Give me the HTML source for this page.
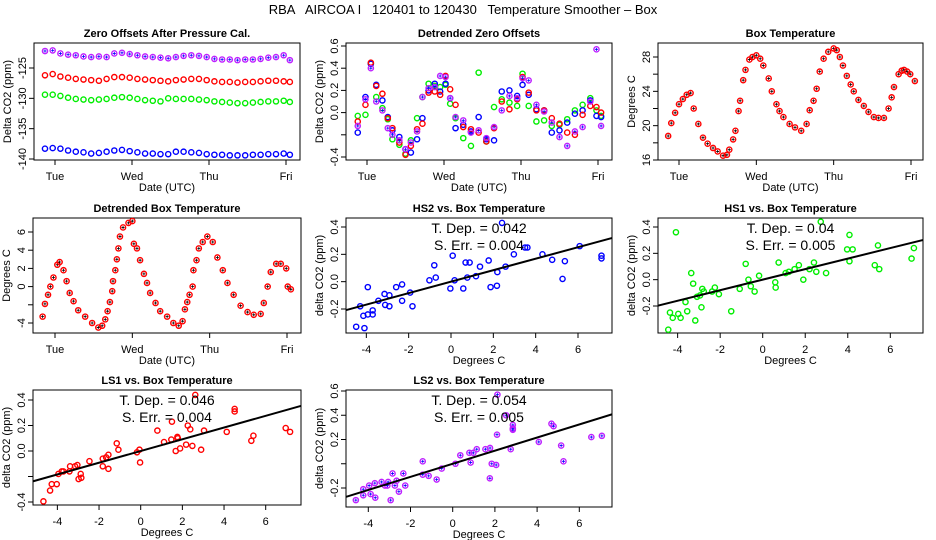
<!DOCTYPE html>
<html><head><meta charset="utf-8">
<style>
html,body{margin:0;padding:0;background:#fff;}
svg{display:block;font-family:"Liberation Sans",sans-serif;}
text{fill:#000;}
</style></head>
<body>
<svg id="chart" width="936" height="540" viewBox="0 0 936 540" xmlns="http://www.w3.org/2000/svg">
<rect x="0" y="0" width="936" height="540" fill="#fff"/>
<text x="463" y="14" font-size="13" text-anchor="middle" xml:space="preserve">RBA   AIRCOA I   120401 to 120430   Temperature Smoother – Box</text>
</svg>
<script>
// ---------- data ----------
const dayLabels = ["Tue","Wed","Thu","Fri"];
const dayTicks = [0,1,2,3];

const zeroTimes = [-0.13,-0.03,0.07,0.17,0.27,0.37,0.47,0.57,0.67,0.77,0.87,0.97,1.07,1.17,1.27,1.37,1.47,1.57,1.67,1.77,1.87,1.97,2.07,2.17,2.27,2.37,2.47,2.57,2.67,2.77,2.87,2.97,3.05];
const zeroLS2 = [-122.2,-122.1,-122.6,-122.8,-122.9,-123.1,-123.2,-123.1,-123.2,-122.6,-122.5,-122.7,-122.9,-123.1,-123.2,-123.3,-123.4,-123.2,-123.0,-122.9,-123.0,-123.2,-123.5,-123.6,-123.6,-123.7,-123.6,-123.6,-123.5,-123.3,-123.2,-122.9,-123.7];
const zeroLS1 = [-126.2,-126.0,-126.4,-126.6,-126.8,-126.9,-127.0,-127.1,-126.8,-126.5,-126.5,-126.6,-126.8,-126.9,-127.0,-127.1,-127.2,-127.0,-126.9,-126.8,-126.8,-127.0,-127.2,-127.3,-127.3,-127.4,-127.3,-127.3,-127.2,-127.1,-127.1,-127.2,-127.3];
const zeroHS1 = [-129.4,-129.4,-129.6,-129.9,-130.1,-130.2,-130.3,-130.2,-130.1,-129.9,-129.8,-129.9,-130.1,-130.3,-130.4,-130.5,-130.0,-130.1,-130.1,-130.1,-130.2,-130.3,-130.5,-130.6,-130.7,-130.8,-130.8,-130.7,-130.6,-130.5,-130.5,-130.4,-130.6];
const zeroHS2 = [-138.3,-138.2,-138.3,-138.6,-138.8,-138.9,-139.1,-139.0,-138.8,-138.6,-138.5,-138.7,-138.9,-139.1,-139.1,-139.2,-139.2,-138.8,-138.8,-138.9,-139.0,-139.2,-139.3,-139.3,-139.4,-139.4,-139.4,-139.3,-139.3,-139.2,-139.2,-139.1,-139.3];

const detTimes = [-0.12,-0.02,0.05,0.12,0.2,0.27,0.33,0.42,0.5,0.57,0.65,0.72,0.8,0.88,0.95,1.02,1.08,1.15,1.25,1.35,1.45,1.55,1.65,1.75,1.85,1.95,2.02,2.1,2.2,2.3,2.4,2.5,2.6,2.7,2.8,2.9,2.98,3.04];
const detHS2 = [-0.18,0.14,0.44,0.25,0.11,-0.04,-0.16,-0.22,-0.33,-0.36,-0.24,-0.05,0.2,0.26,0.19,0.26,0.13,-0.14,-0.11,-0.17,-0.04,-0.24,-0.25,0.19,0.2,0.15,0.25,0.16,0.03,0.02,-0.18,-0.16,-0.09,-0.01,0.02,0.11,-0.03,-0.04];
const detLS1 = [-0.08,0.07,0.45,0.24,0.17,-0.05,-0.14,-0.27,-0.38,-0.3,-0.15,-0.1,0.18,0.19,0.16,0.33,0.21,0.07,-0.13,-0.15,-0.18,-0.26,-0.14,0.1,0.03,0.12,0.32,0.18,0.02,0.02,-0.05,-0.1,-0.18,-0.2,-0.02,0.06,0.05,0.0];
const detHS1 = [-0.03,-0.02,0.44,0.14,0.04,-0.06,-0.24,-0.29,-0.37,-0.25,-0.05,0.14,0.26,0.24,0.23,0.25,0.08,-0.05,-0.23,-0.3,0.36,-0.26,0.05,0.12,0.09,0.06,0.35,0.06,-0.08,-0.07,-0.12,-0.11,-0.06,0.02,0.07,0.13,0.02,-0.03];
const detLS2 = [-0.12,0.12,0.4,0.1,0.02,-0.14,-0.2,-0.25,-0.33,-0.27,-0.17,0.14,0.22,0.23,0.33,0.32,0.13,-0.04,-0.07,-0.18,-0.16,-0.23,-0.13,0.02,0.15,0.13,0.31,0.29,0.07,0.01,-0.09,-0.22,-0.3,-0.17,-0.13,0.1,0.57,-0.12];

const boxTimes = [-0.14,-0.1,-0.05,0.0,0.05,0.1,0.15,0.19,0.25,0.31,0.37,0.44,0.5,0.57,0.62,0.65,0.7,0.73,0.77,0.79,0.83,0.86,0.91,0.95,1.0,1.05,1.09,1.16,1.2,1.26,1.3,1.35,1.43,1.5,1.58,1.65,1.69,1.74,1.78,1.82,1.87,1.93,2.0,2.04,2.08,2.12,2.17,2.22,2.26,2.32,2.39,2.45,2.52,2.58,2.65,2.71,2.75,2.78,2.84,2.88,2.91,2.95,2.99,3.05];
const boxTemp = [18.8,20.3,21.5,22.5,23.1,23.6,23.8,22.0,20.2,18.6,17.9,17.4,17.0,16.5,16.6,17.2,18.4,19.4,21.7,22.9,25.3,26.5,27.7,28.0,28.2,27.8,27.0,25.5,24.0,22.5,21.7,21.0,20.2,19.8,19.4,20.2,21.8,22.9,24.3,26.3,27.8,28.6,29.0,28.8,28.0,27.0,25.8,24.8,24.0,23.0,22.3,21.6,21.0,20.9,20.9,22.0,23.3,24.5,26.0,26.4,26.5,26.3,26.0,25.2];

const dboxTimes = [-0.16,-0.13,-0.09,-0.06,-0.02,0.03,0.06,0.11,0.15,0.19,0.24,0.3,0.39,0.48,0.56,0.61,0.65,0.68,0.71,0.74,0.75,0.78,0.8,0.82,0.84,0.88,0.95,1.0,1.02,1.06,1.1,1.15,1.19,1.23,1.3,1.36,1.45,1.53,1.6,1.65,1.68,1.71,1.74,1.78,1.79,1.83,1.86,1.91,1.97,2.04,2.1,2.17,2.23,2.31,2.4,2.49,2.57,2.66,2.7,2.75,2.79,2.86,2.92,2.99,3.01,3.05];
const dboxTemp = [-3.3,-1.9,-0.9,0.0,1.0,2.4,2.7,1.8,0.6,-0.7,-1.6,-2.6,-3.3,-4.0,-4.5,-4.3,-3.6,-2.7,-1.7,-0.5,0.6,1.8,3.0,4.2,5.5,6.5,7.0,7.2,4.7,4.2,2.9,1.4,0.4,-0.7,-1.8,-2.7,-3.3,-4.0,-4.3,-3.8,-2.5,-1.7,-0.9,0.0,1.8,2.9,4.2,4.9,5.5,4.9,3.2,1.8,0.4,-0.9,-2.1,-2.8,-3.1,-3.0,-1.8,0.0,1.6,2.5,2.5,2.0,0.0,-0.3];

const hs2X = [-4.48,-4.09,-4.29,-4.14,-3.93,-3.93,-3.7,-3.7,-3.43,-3.14,-3.11,-2.91,-2.91,-2.59,-2.31,-2.31,-1.93,-1.82,-1.02,-0.79,-0.72,-0.03,0.08,0.17,0.58,0.69,0.77,0.88,1.18,1.37,1.78,1.87,2.17,2.19,2.41,2.58,2.97,3.5,3.61,4.32,4.78,5.27,5.38,6.08,7.11,7.11];
const hs2Y = [-0.33,-0.34,-0.18,-0.25,-0.04,-0.24,-0.21,-0.24,-0.14,-0.09,-0.17,-0.1,-0.18,-0.04,-0.02,-0.14,-0.08,-0.18,0.01,0.12,0.03,-0.05,0.19,0.01,-0.05,0.14,0.03,0.14,0.04,0.11,0.155,-0.04,-0.03,0.07,0.43,0.11,0.2,0.25,0.25,0.2,0.16,0.02,0.15,0.26,0.19,0.17];
const hs1X = [-4.44,-4.36,-4.23,-3.97,-3.86,-4.08,-3.63,-3.55,-3.36,-3.27,-3.17,-3.09,-2.95,-2.88,-2.84,-2.77,-2.38,-2.25,-2.06,-1.48,-1.08,-0.8,-0.67,-0.56,-0.38,-0.17,0.59,0.61,0.75,1.08,1.23,1.5,1.7,1.91,2.2,2.41,2.52,2.73,2.98,3.97,4.08,4.08,4.23,5.27,5.42,5.48,7.0,7.11];
const hs1Y = [-0.38,-0.25,-0.29,-0.26,-0.29,0.36,-0.17,-0.24,0.05,-0.03,-0.31,-0.13,-0.12,-0.21,-0.07,-0.09,-0.09,-0.06,-0.11,-0.24,-0.07,0.12,0.0,-0.05,-0.09,0.03,-0.02,-0.06,0.13,0.05,0.06,0.08,0.11,0.0,0.08,0.13,0.06,0.44,0.05,0.23,0.34,0.14,0.23,0.11,0.26,0.08,0.16,0.24];
const ls1X = [-4.67,-4.35,-4.27,-4.03,-3.95,-3.79,-3.71,-3.39,-3.42,-3.15,-3.04,-2.98,-2.88,-2.85,-2.46,-1.82,-1.82,-1.66,-1.55,-1.55,-1.15,-1.07,-0.18,-0.06,-0.03,0.8,1.12,1.47,1.5,1.68,1.76,1.78,1.89,2.18,2.26,2.38,2.48,2.62,2.9,3.04,4.13,4.51,4.51,5.31,5.41,6.96,7.17];
const ls1Y = [-0.395,-0.31,-0.26,-0.26,-0.18,-0.16,-0.16,-0.12,-0.16,-0.12,-0.11,-0.22,-0.18,-0.21,-0.08,-0.06,-0.12,-0.05,-0.03,-0.14,0.06,0.01,-0.01,0.01,-0.09,0.16,0.07,0.09,0.23,0.0,0.11,0.1,0.02,0.05,0.2,0.17,0.04,0.44,0.01,0.16,0.15,0.33,0.31,0.08,0.12,0.18,0.15];
const ls2X = [-4.59,-4.24,-4.24,-3.96,-3.89,-3.69,-3.67,-3.37,-3.21,-3.1,-3.06,-2.94,-2.85,-2.74,-2.66,-2.55,-2.34,-2.25,-1.42,-1.42,-1.14,-0.76,-0.52,0.13,0.36,0.79,0.85,0.98,1.14,1.55,1.77,1.76,1.85,2.06,2.1,2.53,2.12,2.75,2.85,2.85,2.85,4.08,4.68,4.78,5.14,5.25,6.57,7.07];
const ls2Y = [-0.3,-0.26,-0.21,-0.18,-0.25,-0.16,-0.28,-0.15,-0.18,-0.18,-0.15,-0.3,-0.08,-0.18,-0.14,-0.23,-0.08,-0.18,0.02,-0.09,-0.1,-0.13,-0.04,0.0,0.07,0.09,0.01,0.09,0.12,0.12,0.13,-0.12,0.0,-0.01,0.24,0.4,0.57,0.12,0.32,0.29,0.28,0.18,0.33,0.31,0.15,0.02,0.22,0.23];

const fitSlopes = [0.042,0.04,0.046,0.054];
const fitIntercepts = [0.0,0.0,0.0,0.0];
const fitDep = ["0.042","0.04","0.046","0.054"];
const fitErr = ["0.004","0.005","0.004","0.005"];

// ---------- drawing ----------
const NS = "http://www.w3.org/2000/svg";
const svg = document.getElementById("chart");
function mk(tag, attrs, parent){
  const e = document.createElementNS(NS, tag);
  for (const k in attrs) e.setAttribute(k, attrs[k]);
  (parent || svg).appendChild(e);
  return e;
}
function lin(d0,p0,d1,p1){ return v => p0 + (v-d0)*(p1-p0)/(d1-d0); }

function panel(name, box, title, xs, ys, xticks, xlabels, yticks, ylabels, xtitle, ytitle){
  const g = mk("g", {});
  
  
  const [x0,y0,x1,y1] = box;
  const fr = mk("rect", {x:x0, y:y0, width:x1-x0, height:y1-y0, fill:"none", stroke:"#000", "stroke-width":1}, g);
  
  
  const t = mk("text", {x:(x0+x1)/2, y:y0-6, "font-size":11, "font-weight":"bold", "text-anchor":"middle"}, g);
  t.textContent = title;
  
  
  xticks.forEach((v,i)=>{
    const px = xs(v);
    const tk = mk("line", {x1:px, x2:px, y1:y1, y2:y1+5, stroke:"#000"}, g);
    
    
    if (xlabels[i] !== "") {
      const tl = mk("text", {x:px, y:y1+20, "font-size":11, "text-anchor":"middle"}, g);
      tl.textContent = xlabels[i];
      
      
    }
  });
  yticks.forEach((v,i)=>{
    const py = ys(v);
    const tk = mk("line", {x1:x0-5, x2:x0, y1:py, y2:py, stroke:"#000"}, g);
    
    
    if (ylabels[i] !== "") {
      const tl = mk("text", {x:x0-8, y:py, "font-size":11, "text-anchor":"middle", transform:`rotate(-90 ${x0-8} ${py})`}, g);
      tl.textContent = ylabels[i];
      
      
    }
  });
  const xt = mk("text", {x:(x0+x1)/2, y:y1+31, "font-size":11, "text-anchor":"middle"}, g);
  xt.textContent = xtitle;
  
  
  const yx = x0-23, yy = (y0+y1)/2;
  const yt = mk("text", {x:yx, y:yy, "font-size":11, "text-anchor":"middle", transform:`rotate(-90 ${yx} ${yy})`}, g);
  yt.textContent = ytitle;
  
  
  return g;
}
function points(g, xsArr, ysArr, xs, ys, color, cross){
  xsArr.forEach((xv,i)=>{
    const cx = xs(xv), cy = ys(ysArr[i]);
    const c = mk("circle", {cx:cx, cy:cy, r:2.6, fill:"none", stroke:color, "stroke-width":1.4}, g);
    
    
    if (cross) {
      const p = mk("path", {d:`M${cx-1.5},${cy}h3M${cx},${cy-1.5}v3`, stroke:cross, "stroke-width":0.8}, g);
      
      
    }
  });
}
function fit(g, box, xs, ys, xmin, xmax, k){
  const a = fitIntercepts[k], b = fitSlopes[k];
  const cp = "clip"+k;
  const cpe = mk("clipPath", {id:cp}, g);
  mk("rect", {x:box[0], y:box[1], width:box[2]-box[0], height:box[3]-box[1]}, cpe);
  const l = mk("line", {x1:xs(xmin), y1:ys(a+b*xmin), x2:xs(xmax), y2:ys(a+b*xmax), stroke:"#000", "stroke-width":2, "clip-path":`url(#${cp})`}, g);
  
  
  const cx = (box[0]+box[2])/2;
  const t1 = mk("text", {x:cx, y:box[1]+15, "font-size":14, "text-anchor":"middle", "xml:space":"preserve"}, g);
  t1.textContent = "T. Dep. =  " + fitDep[k];
  
  
  const t2 = mk("text", {x:cx, y:box[1]+32, "font-size":14, "text-anchor":"middle", "xml:space":"preserve"}, g);
  t2.textContent = "S. Err. =  " + fitErr[k];
  
  
}
const RED="#ff0000", GRN="#00ee00", BLU="#0000ff", PUR="#c020ff";

// Panel 1: zero offsets
{
  const box=[34,43,300,160];
  const xs=lin(0,55,3,286), ys=lin(-125,68,-140,159);
  const g=panel("zero-offsets-panel",box,"Zero Offsets After Pressure Cal.",xs,ys,dayTicks,dayLabels,[-125,-130,-135,-140],["-125","-130","-135","-140"],"Date (UTC)","Delta CO2 (ppm)");
  points(g,zeroTimes,zeroLS2,xs,ys,PUR,"#0000ff");
  points(g,zeroTimes,zeroLS1,xs,ys,RED);
  points(g,zeroTimes,zeroHS1,xs,ys,GRN);
  points(g,zeroTimes,zeroHS2,xs,ys,BLU);
}
// Panel 2: detrended zero offsets
{
  const box=[346,43,612,160];
  const xs=lin(0,367,3,598), ys=lin(0.6,46,-0.4,157);
  const g=panel("detrended-zero-offsets-panel",box,"Detrended Zero Offsets",xs,ys,dayTicks,dayLabels,[0.6,0.4,0.2,0,-0.2,-0.4],["0.6","0.4","0.2","0.0","","-0.4"],"Date (UTC)","Delta CO2 (ppm)");
  points(g,detTimes,detHS1,xs,ys,GRN);
  points(g,detTimes,detHS2,xs,ys,BLU);
  points(g,detTimes,detLS1,xs,ys,RED);
  points(g,detTimes,detLS2,xs,ys,PUR,"#0000ff");
}
// Panel 3: box temperature
{
  const box=[658,43,923,160];
  const xs=lin(0,679,3,911), ys=lin(28,57,16,160);
  const g=panel("box-temperature-panel",box,"Box Temperature",xs,ys,dayTicks,dayLabels,[16,18,20,22,24,26,28],["16","","20","","24","","28"],"Date (UTC)","Degrees C");
  points(g,boxTimes,boxTemp,xs,ys,RED,"#000");
}
// Panel 4: detrended box temperature
{
  const box=[33,218,301,333];
  const xs=lin(0,55,3,287), ys=lin(6,232,-4,323);
  const g=panel("detrended-box-temperature-panel",box,"Detrended Box Temperature",xs,ys,dayTicks,dayLabels,[6,4,2,0,-2,-4],["6","4","2","0","","-4"],"Date (UTC)","Degrees C");
  points(g,dboxTimes,dboxTemp,xs,ys,RED,"#000");
}
const sxT=[-4,-2,0,2,4,6], sxL=["-4","-2","0","2","4","6"];
// HS2
{
  const box=[346,218,612,333];
  const xs=lin(0,451,6,578), ys=lin(0.4,227,-0.2,309);
  const g=panel("hs2-vs-box-temperature-panel",box,"HS2 vs. Box Temperature",xs,ys,sxT,sxL,[0.4,0.2,0,-0.2],["0.4","0.2","0.0","-0.2"],"Degrees C","delta CO2 (ppm)");
  points(g,hs2X,hs2Y,xs,ys,BLU);
  fit(g,box,xs,ys,-5.2,7.8,0);
}
// HS1
{
  const box=[658,218,923,333];
  const xs=lin(0,762.7,6,890.3), ys=lin(0.4,227,-0.2,306);
  const g=panel("hs1-vs-box-temperature-panel",box,"HS1 vs. Box Temperature",xs,ys,sxT,sxL,[0.4,0.2,0,-0.2],["0.4","0.2","0.0","-0.2"],"Degrees C","delta CO2 (ppm)");
  points(g,hs1X,hs1Y,xs,ys,GRN);
  fit(g,box,xs,ys,-5.2,7.8,1);
}
// LS1
{
  const box=[33,390,301,505];
  const xs=lin(0,140.7,6,265.7), ys=lin(0.4,400,-0.4,502);
  const g=panel("ls1-vs-box-temperature-panel",box,"LS1 vs. Box Temperature",xs,ys,sxT,sxL,[0.4,0.2,0,-0.2,-0.4],["0.4","0.2","0.0","","-0.4"],"Degrees C","delta CO2 (ppm)");
  points(g,ls1X,ls1Y,xs,ys,RED);
  fit(g,box,xs,ys,-5.4,7.8,2);
}
// LS2
{
  const box=[346,390,612,507];
  const xs=lin(0,452.7,6,579.3), ys=lin(0.6,391,-0.2,488);
  const g=panel("ls2-vs-box-temperature-panel",box,"LS2 vs. Box Temperature",xs,ys,sxT,sxL,[0.6,0.4,0.2,0,-0.2],["0.6","0.4","0.2","","-0.2"],"Degrees C","delta CO2 (ppm)");
  points(g,ls2X,ls2Y,xs,ys,PUR,"#0000ff");
  fit(g,box,xs,ys,-5.2,7.8,3);
}
</script>
</body></html>
